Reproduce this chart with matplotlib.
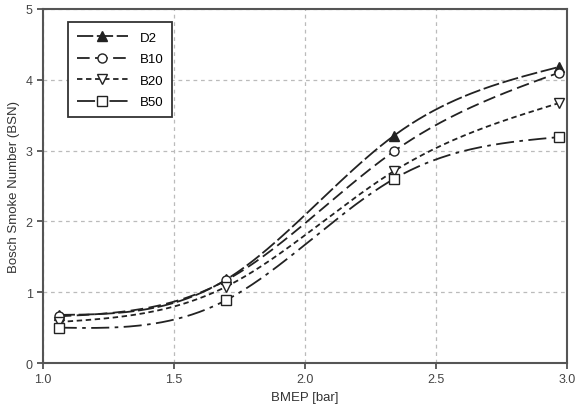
import matplotlib

matplotlib.use("Agg")

import matplotlib.pyplot as plt
import numpy as np

plt.rcParams["font.family"] = ["Liberation Sans", "DejaVu Sans"]

# ---------------------------------------------------------------------------
# Data
# ---------------------------------------------------------------------------

bmep = [1.06, 1.70, 2.34, 2.97]
d2 = [0.68, 1.18, 3.21, 4.18]
b10 = [0.66, 1.17, 2.99, 4.10]
b20 = [0.58, 1.08, 2.71, 3.67]
b50 = [0.50, 0.89, 2.60, 3.19]

labels = ["D2", "B10", "B20", "B50"]
x_ticks = [1.0, 1.5, 2.0, 2.5, 3.0]
y_ticks = [0, 1, 2, 3, 4, 5]


def _natural_spline(x, y, n=200):
    """Smooth curve through the points (natural cubic spline)."""
    x = np.asarray(x, float)
    y = np.asarray(y, float)
    k = len(x)
    h = np.diff(x)
    a = np.zeros((k, k))
    r = np.zeros(k)
    a[0, 0] = a[-1, -1] = 1.0
    for i in range(1, k - 1):
        a[i, i - 1] = h[i - 1]
        a[i, i] = 2 * (h[i - 1] + h[i])
        a[i, i + 1] = h[i]
        r[i] = 6 * ((y[i + 1] - y[i]) / h[i] - (y[i] - y[i - 1]) / h[i - 1])
    m = np.linalg.solve(a, r)
    xs = np.linspace(x[0], x[-1], n)
    idx = np.clip(np.searchsorted(x, xs) - 1, 0, k - 2)
    x0, x1 = x[idx], x[idx + 1]
    hh = x1 - x0
    t0, t1 = x1 - xs, xs - x0
    ys = (m[idx] * t0**3 + m[idx + 1] * t1**3) / (6 * hh) \
        + (y[idx] / hh - m[idx] * hh / 6) * t0 \
        + (y[idx + 1] / hh - m[idx + 1] * hh / 6) * t1
    return xs, ys


styles = [
    dict(ls=(0, (9, 2)), marker="^", mfc="#222222"),
    dict(ls=(0, (7, 3)), marker="o", mfc="white"),
    dict(ls=(0, (3, 2)), marker="v", mfc="white"),
    dict(ls=(0, (10, 3, 2, 3)), marker="s", mfc="white"),
]

fig = plt.figure(figsize=(5.77, 4.10), dpi=100)
ax = fig.add_axes([0.0745, 0.112, 0.908, 0.864])

for series, label, st in zip([d2, b10, b20, b50], labels, styles):
    xs, ys = _natural_spline(bmep, series)
    ax.plot(xs, ys, color="#222222", lw=1.3, ls=st["ls"])
    ax.plot(bmep, series, ls="none", marker=st["marker"], ms=6.5,
            mfc=st["mfc"], mec="#222222", mew=1.0)
    # legend proxy
    ax.plot([], [], color="#222222", lw=1.3, ls=st["ls"], marker=st["marker"],
            ms=6.5, mfc=st["mfc"], mec="#222222", mew=1.0, label=label)

ax.set_xlim(1.0, 3.0)
ax.set_ylim(0, 5)
ax.set_xticks(x_ticks)
ax.set_yticks(y_ticks)
ax.set_xticklabels([f"{v:.1f}" for v in x_ticks])
ax.grid(True, color="#bbbbbb", ls=(0, (3, 3)), lw=0.9)

for sp in ax.spines.values():
    sp.set_color("#555555")
    sp.set_linewidth(1.5)
ax.tick_params(colors="#444444", labelsize=9, length=4, width=1.2)

ax.set_xlabel("BMEP [bar]", fontsize=9.5, color="#333333")
ax.set_ylabel("Bosch Smoke Number (BSN)", fontsize=9.5, color="#333333")

leg = ax.legend(loc="upper left", bbox_to_anchor=(0.048, 0.962), fontsize=9.5,
                handlelength=3.8, fancybox=False, framealpha=1,
                edgecolor="#333333", borderpad=0.7, labelspacing=0.7,
                handletextpad=0.9, borderaxespad=0)
leg.get_frame().set_linewidth(1.3)

fig.savefig("out.png", dpi=100)
